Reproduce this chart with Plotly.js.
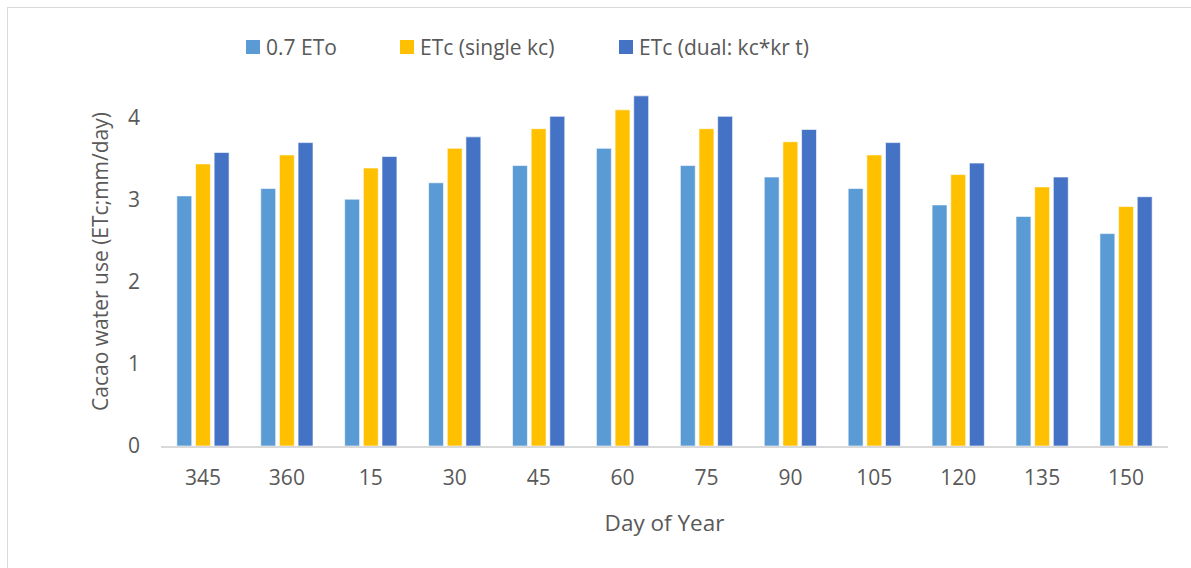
<!DOCTYPE html>
<html><head><meta charset="utf-8">
<script src="https://cdn.plot.ly/plotly-3.0.1.min.js"></script>
<style>
html,body{margin:0;padding:0;background:#fff;overflow:hidden}
#wrap{position:relative;width:1191px;height:568px}
#chart{width:1191px;height:568px}
#frame{position:absolute;left:7px;top:7px;width:1200px;height:600px;border:1px solid #d9d9d9;pointer-events:none}
</style></head><body>
<div id="wrap"><div id="chart"></div><div id="frame"></div></div>
<script>
const days = ["345","360","15","30","45","60","75","90","105","120","135","150"];
const eto07 = [3.05,3.14,3.01,3.21,3.42,3.63,3.42,3.28,3.14,2.94,2.80,2.59];
const etcSingle = [3.44,3.55,3.39,3.63,3.87,4.10,3.87,3.71,3.55,3.31,3.16,2.92];
const etcDual = [3.58,3.70,3.53,3.77,4.02,4.27,4.02,3.86,3.70,3.45,3.28,3.04];
const seriesNames = ["0.7 ETo","ETc (single kc)","ETc (dual: kc*kr t)"];
const colors = ["#5b9bd5","#ffc000","#4472c4"];
const font = "'Open Sans', sans-serif";
const txt = "#595959";
const vals = [eto07, etcSingle, etcDual];

const W = 1191, H = 568, ML = 161, MR = 23, MT = 77, MB = 122;
const pw = W - ML - MR, ph = H - MT - MB;
const px = x => (x - ML) / pw;
const py = y => (H - MB - y) / ph;

const traces = vals.map((v,i)=>({
  type:"bar", x:days, y:v, name:seriesNames[i],
  marker:{color:colors[i], line:{color:"rgba(255,255,255,0.6)", width:1}},
  hoverinfo:"x+y+name"
}));

// legend drawn as key squares + labels
const legendSquareX = [246, 400, 619];
const shapes = [], annotations = [];
seriesNames.forEach((n,i)=>{
  shapes.push({type:"rect", xref:"paper", yref:"paper",
    x0:px(legendSquareX[i]), x1:px(legendSquareX[i]+14), y0:py(54), y1:py(40),
    fillcolor:colors[i], line:{width:0}});
  annotations.push({xref:"paper", yref:"paper", x:px(legendSquareX[i]+18), y:py(47),
    xanchor:"left", yanchor:"middle", showarrow:false, text:n,
    font:{family:font, size:21, color:txt}});
});

const layout = {
  width:W, height:H,
  margin:{l:ML,r:MR,t:MT,b:MB},
  paper_bgcolor:"#fff", plot_bgcolor:"#fff",
  barmode:"group", bargap:0.333, bargroupgap:0.2,
  font:{family:font,color:txt},
  showlegend:false,
  shapes:shapes, annotations:annotations,
  xaxis:{type:"category", showline:true, linecolor:"#d9d9d9", linewidth:1.5,
    ticks:"", tickfont:{family:font,size:21,color:txt}, ticklabelstandoff:12,
    title:{text:"Day of Year", font:{family:font,size:22.5,color:txt}, standoff:25}},
  yaxis:{range:[0,4.5], dtick:1, tick0:0, showgrid:false, zeroline:false, showline:false,
    ticks:"", tickfont:{family:font,size:21,color:txt}, ticklabelstandoff:20,
    title:{text:"Cacao water use (ETc;mm/day)", font:{family:font,size:21,color:txt}, standoff:13}}
};
Plotly.newPlot("chart", traces, layout, {displayModeBar:false});
</script></body></html>
